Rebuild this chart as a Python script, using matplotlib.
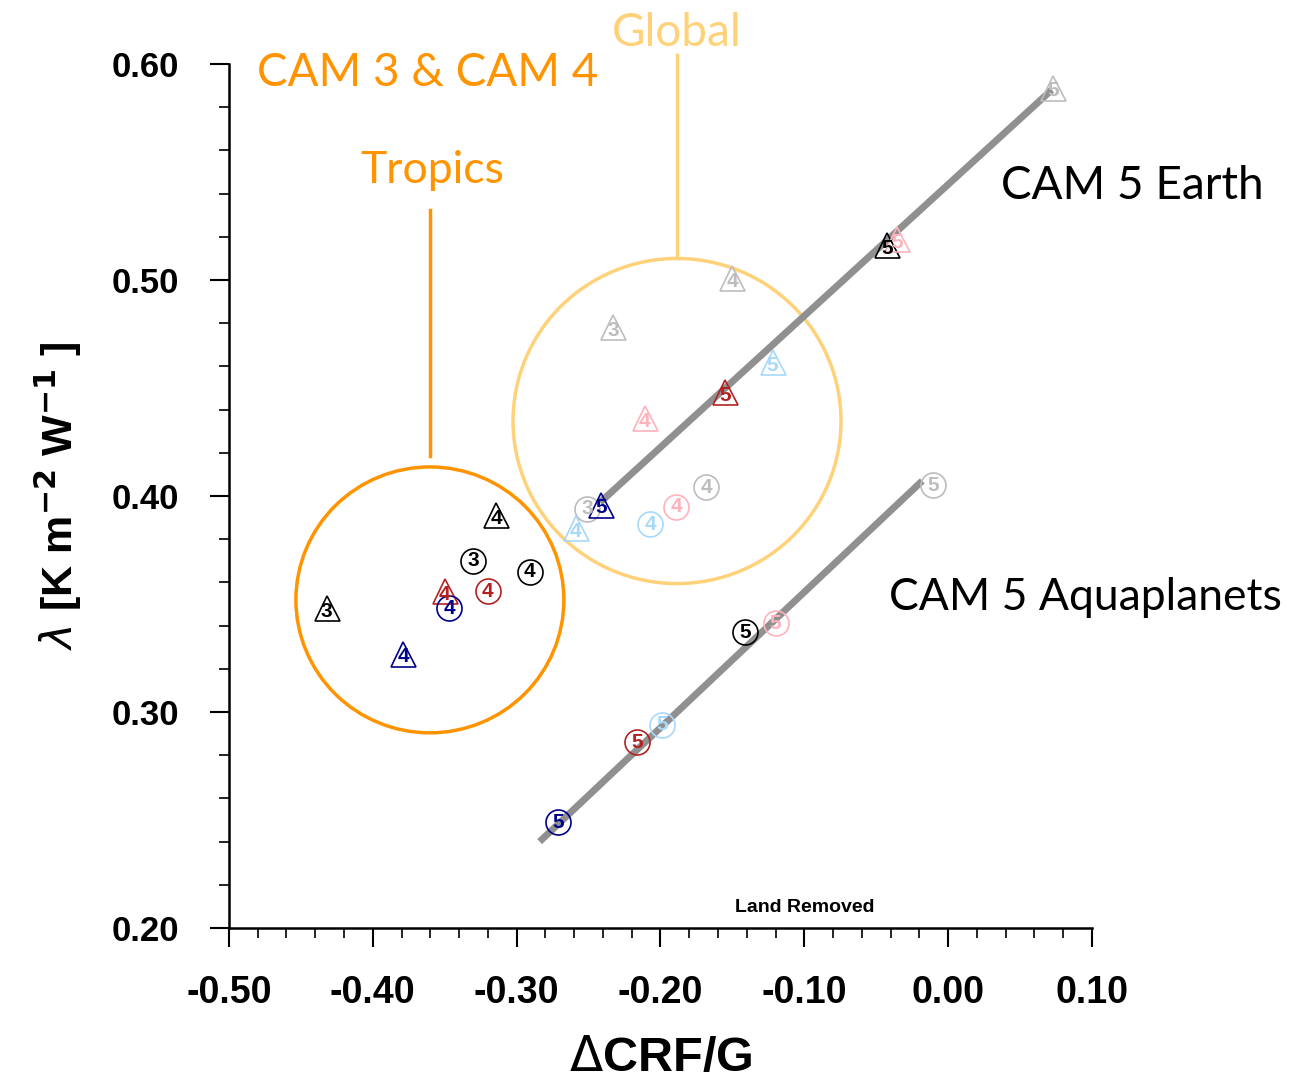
import numpy as np
import matplotlib
matplotlib.use("Agg")
import matplotlib.pyplot as plt
from matplotlib.patches import Ellipse
from matplotlib.ticker import MultipleLocator

# colours used for the different runs
BLACK = "#000000"
NAVY = "#00008c"
RED = "#b22222"
PINK = "#ffb2bc"
LBLUE = "#a8d8fa"
GRAY = "#bdbdbd"

# CAM3 / CAM4 tropics points
trop_x = [-0.432, -0.379, -0.350, -0.347, -0.330, -0.320, -0.291, -0.314]
trop_y = [0.348, 0.327, 0.356, 0.348, 0.370, 0.356, 0.365, 0.391]
trop_lab = ["3", "4", "4", "4", "3", "4", "4", "4"]
trop_mk = ["^", "^", "^", "o", "o", "o", "o", "^"]
trop_col = [BLACK, NAVY, RED, NAVY, BLACK, RED, BLACK, BLACK]

# CAM3 / CAM4 global points
glob_x = [-0.150, -0.233, -0.211, -0.168, -0.189, -0.207, -0.251, -0.259]
glob_y = [0.501, 0.478, 0.436, 0.404, 0.395, 0.387, 0.394, 0.385]
glob_lab = ["4", "3", "4", "4", "4", "4", "3", "4"]
glob_mk = ["^", "^", "^", "o", "o", "o", "o", "^"]
glob_col = [GRAY, GRAY, PINK, GRAY, PINK, LBLUE, GRAY, LBLUE]

# CAM5 Earth points
earth_x = [-0.241, -0.155, -0.122, -0.0425, -0.0356, 0.073]
earth_y = [0.396, 0.448, 0.462, 0.516, 0.519, 0.589]
earth_col = [NAVY, RED, LBLUE, BLACK, PINK, GRAY]
earth_fit_x = [-0.242, 0.072]
earth_fit_y = [0.397, 0.588]

# CAM5 aquaplanet points
aqua_x = [-0.271, -0.216, -0.199, -0.141, -0.120, -0.0105]
aqua_y = [0.249, 0.286, 0.294, 0.337, 0.341, 0.405]
aqua_col = [NAVY, RED, LBLUE, BLACK, PINK, GRAY]
aqua_fit_x = [-0.284, -0.018]
aqua_fit_y = [0.240, 0.407]

ORANGE = "#ff9400"
LORANGE = "#ffd27a"
LABEL_FONT = ["Lato", "DejaVu Sans"]
NUM_FONT = ["Liberation Sans", "DejaVu Sans"]

fig = plt.figure(figsize=(13.12, 10.84), dpi=100)
ax = fig.add_axes([0.1745, 0.1439, 0.6578, 0.7971])
ax.set_xlim(-0.5, 0.1)
ax.set_ylim(0.2, 0.6)

# regression lines
ax.plot(earth_fit_x, earth_fit_y, color="#909090", lw=5, solid_capstyle="butt", zorder=2)
ax.plot(aqua_fit_x, aqua_fit_y, color="#909090", lw=5, solid_capstyle="butt", zorder=2)


def draw_points(xs, ys, labels, markers, colors):
    for x, y, lab, mk, c in zip(xs, ys, labels, markers, colors):
        ax.plot(x, y, marker=mk, ms=18, mfc="none", mec=c, mew=1.2,
                zorder=3, clip_on=False)
        dy = -0.0015 if mk == "^" else 0.0
        ax.text(x, y + dy, lab, color=c, fontsize=15, fontweight="bold",
                family=NUM_FONT, ha="center", va="center", zorder=4)


draw_points(trop_x, trop_y, trop_lab, trop_mk, trop_col)
draw_points(glob_x, glob_y, glob_lab, glob_mk, glob_col)
draw_points(earth_x, earth_y, ["5"] * len(earth_x), ["^"] * len(earth_x), earth_col)
draw_points(aqua_x, aqua_y, ["5"] * len(aqua_x), ["o"] * len(aqua_x), aqua_col)

# grouping circles (round on screen, so ellipses in data space)
ax.add_patch(Ellipse((-0.3603, 0.3519), 0.1863, 0.1231, fill=False,
                     ec=ORANGE, lw=2.5, zorder=1))
ax.add_patch(Ellipse((-0.1885, 0.4347), 0.2280, 0.1505, fill=False,
                     ec=LORANGE, lw=2.5, zorder=1))
ax.plot([-0.3603, -0.3603], [0.4185, 0.5324], color=ORANGE, lw=2.5, zorder=1)
ax.plot([-0.1885, -0.1885], [0.5102, 0.6042], color=LORANGE, lw=2.5,
        zorder=1, clip_on=False)

ax.text(-0.3616, 0.5958, "CAM 3 & CAM 4", color=ORANGE, fontsize=33,
        family=LABEL_FONT, ha="center", va="center")
ax.text(-0.1885, 0.6144, "Global", color=LORANGE, fontsize=33,
        family=LABEL_FONT, ha="center", va="center")
ax.text(-0.3589, 0.5509, "Tropics", color=ORANGE, fontsize=32,
        family=LABEL_FONT, ha="center", va="center")
ax.text(0.1278, 0.5435, "CAM 5 Earth", color="black", fontsize=33,
        family=LABEL_FONT, ha="center", va="center", clip_on=False)
ax.text(0.0952, 0.3528, "CAM 5 Aquaplanets", color="black", fontsize=32,
        family=LABEL_FONT, ha="center", va="center", clip_on=False)
ax.text(-0.0995, 0.2097, "Land Removed", color="black", fontsize=14,
        fontweight="bold", family=NUM_FONT, ha="center", va="center")

# axes styling
for side in ("top", "right"):
    ax.spines[side].set_visible(False)
for side in ("left", "bottom"):
    ax.spines[side].set_linewidth(1.8)

ax.xaxis.set_major_locator(MultipleLocator(0.1))
ax.xaxis.set_minor_locator(MultipleLocator(0.02))
ax.yaxis.set_major_locator(MultipleLocator(0.1))
ax.yaxis.set_minor_locator(MultipleLocator(0.02))
ax.xaxis.set_major_formatter(plt.FuncFormatter(lambda v, p: f"{v:.2f}".replace("-0.00", "0.00")))
ax.yaxis.set_major_formatter(plt.FuncFormatter(lambda v, p: f"{v:.2f}"))
ax.tick_params(which="major", direction="out", length=14, width=1.5)
ax.tick_params(which="minor", direction="out", length=7, width=1.2)
ax.tick_params(axis="x", which="major", pad=20, labelsize=27)
ax.tick_params(axis="y", which="major", pad=22, labelsize=25)
for lab in ax.get_xticklabels() + ax.get_yticklabels():
    lab.set_fontweight("bold")
    lab.set_family(NUM_FONT)

ax.set_xlabel(r"$\Delta$CRF/G", fontsize=35, fontweight="bold",
              family=NUM_FONT, labelpad=18)
ax.set_ylabel(r"$\lambda$ [K m$^{\mathbf{-2}}$ W$^{\mathbf{-1}}$ ]", fontsize=31,
              fontweight="bold", family=NUM_FONT, labelpad=20)

fig.savefig("out.png", dpi=100)
